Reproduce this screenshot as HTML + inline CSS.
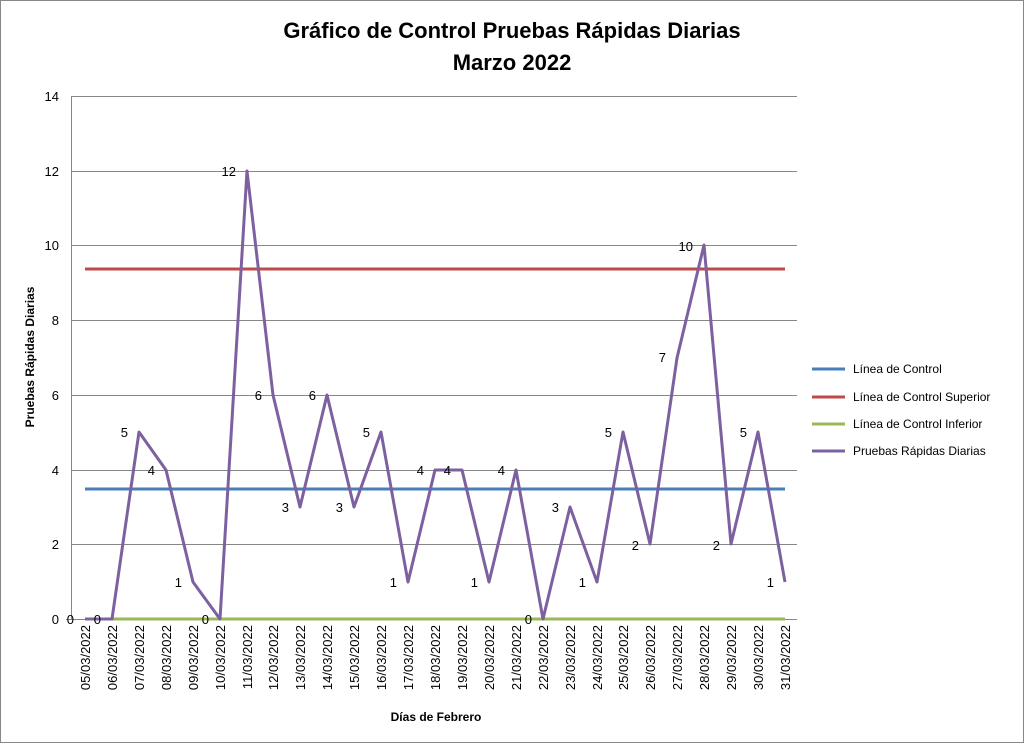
<!DOCTYPE html>
<html><head><meta charset="utf-8"><style>body{margin:0;background:#fff}svg{display:block}text{font-family:"Liberation Sans",sans-serif}</style></head>
<body>
<svg width="1024" height="743" viewBox="0 0 1024 743" xmlns="http://www.w3.org/2000/svg">
<rect x="0.5" y="0.5" width="1023" height="742" fill="#fff" stroke="#888"/>
<text x="512" y="38" font-size="22" font-weight="bold" text-anchor="middle">Gráfico de Control Pruebas Rápidas Diarias</text>
<text x="512" y="70" font-size="22" font-weight="bold" text-anchor="middle">Marzo 2022</text>
<g stroke="#868686" stroke-width="1">
<line x1="71" y1="96.5" x2="797" y2="96.5"/>
<line x1="71" y1="171.5" x2="797" y2="171.5"/>
<line x1="71" y1="245.5" x2="797" y2="245.5"/>
<line x1="71" y1="320.5" x2="797" y2="320.5"/>
<line x1="71" y1="395.5" x2="797" y2="395.5"/>
<line x1="71" y1="470.5" x2="797" y2="470.5"/>
<line x1="71" y1="544.5" x2="797" y2="544.5"/>
<line x1="66" y1="619.5" x2="797" y2="619.5"/>
<line x1="71.5" y1="96" x2="71.5" y2="619"/>
</g>
<g font-size="13" text-anchor="end">
<text x="59" y="101">14</text><text x="59" y="176">12</text><text x="59" y="250">10</text><text x="59" y="325">8</text><text x="59" y="400">6</text><text x="59" y="475">4</text><text x="59" y="549">2</text><text x="59" y="624">0</text>
</g>
<text transform="translate(34,357) rotate(-90)" font-size="12" font-weight="bold" text-anchor="middle">Pruebas Rápidas Diarias</text>
<text x="436" y="721" font-size="12" font-weight="bold" text-anchor="middle">Días de Febrero</text>
<line x1="85" y1="489" x2="785" y2="489" stroke="#4A7EBB" stroke-width="3"/>
<line x1="85" y1="269" x2="785" y2="269" stroke="#BE4B48" stroke-width="3"/>
<line x1="85" y1="619" x2="785" y2="619" stroke="#98B954" stroke-width="3"/>
<polyline fill="none" stroke="#7D60A0" stroke-width="3" stroke-linejoin="round" points="85,619 112,619 139,432 166,470 193,582 220,619 247,171 273,395 300,507 327,395 354,507 381,432 408,582 435,470 462,470 489,582 516,470 543,619 570,507 597,582 623,432 650,544 677,358 704,245 731,544 758,432 785,582"/>
<g font-size="13" text-anchor="end">
<text x="74" y="624">0</text><text x="101" y="624">0</text><text x="128" y="437">5</text><text x="155" y="475">4</text><text x="182" y="587">1</text><text x="209" y="624">0</text><text x="236" y="176">12</text><text x="262" y="400">6</text><text x="289" y="512">3</text><text x="316" y="400">6</text><text x="343" y="512">3</text><text x="370" y="437">5</text><text x="397" y="587">1</text><text x="424" y="475">4</text><text x="451" y="475">4</text><text x="478" y="587">1</text><text x="505" y="475">4</text><text x="532" y="624">0</text><text x="559" y="512">3</text><text x="586" y="587">1</text><text x="612" y="437">5</text><text x="639" y="550">2</text><text x="666" y="362">7</text><text x="693" y="251">10</text><text x="720" y="550">2</text><text x="747" y="437">5</text><text x="774" y="587">1</text>
</g>
<g font-size="13" text-anchor="end">
<text transform="translate(90,625) rotate(-90)">05/03/2022</text>
<text transform="translate(117,625) rotate(-90)">06/03/2022</text>
<text transform="translate(144,625) rotate(-90)">07/03/2022</text>
<text transform="translate(171,625) rotate(-90)">08/03/2022</text>
<text transform="translate(198,625) rotate(-90)">09/03/2022</text>
<text transform="translate(225,625) rotate(-90)">10/03/2022</text>
<text transform="translate(252,625) rotate(-90)">11/03/2022</text>
<text transform="translate(278,625) rotate(-90)">12/03/2022</text>
<text transform="translate(305,625) rotate(-90)">13/03/2022</text>
<text transform="translate(332,625) rotate(-90)">14/03/2022</text>
<text transform="translate(359,625) rotate(-90)">15/03/2022</text>
<text transform="translate(386,625) rotate(-90)">16/03/2022</text>
<text transform="translate(413,625) rotate(-90)">17/03/2022</text>
<text transform="translate(440,625) rotate(-90)">18/03/2022</text>
<text transform="translate(467,625) rotate(-90)">19/03/2022</text>
<text transform="translate(494,625) rotate(-90)">20/03/2022</text>
<text transform="translate(521,625) rotate(-90)">21/03/2022</text>
<text transform="translate(548,625) rotate(-90)">22/03/2022</text>
<text transform="translate(575,625) rotate(-90)">23/03/2022</text>
<text transform="translate(602,625) rotate(-90)">24/03/2022</text>
<text transform="translate(628,625) rotate(-90)">25/03/2022</text>
<text transform="translate(655,625) rotate(-90)">26/03/2022</text>
<text transform="translate(682,625) rotate(-90)">27/03/2022</text>
<text transform="translate(709,625) rotate(-90)">28/03/2022</text>
<text transform="translate(736,625) rotate(-90)">29/03/2022</text>
<text transform="translate(763,625) rotate(-90)">30/03/2022</text>
<text transform="translate(790,625) rotate(-90)">31/03/2022</text>
</g>
<g font-size="12">
<line x1="812" y1="369" x2="845" y2="369" stroke="#4A7EBB" stroke-width="3"/><text x="853" y="373">Línea de Control</text>
<line x1="812" y1="397" x2="845" y2="397" stroke="#BE4B48" stroke-width="3"/><text x="853" y="401">Línea de Control Superior</text>
<line x1="812" y1="424" x2="845" y2="424" stroke="#98B954" stroke-width="3"/><text x="853" y="428">Línea de Control Inferior</text>
<line x1="812" y1="451" x2="845" y2="451" stroke="#7D60A0" stroke-width="3"/><text x="853" y="455">Pruebas Rápidas Diarias</text>
</g>
</svg>
</body></html>
